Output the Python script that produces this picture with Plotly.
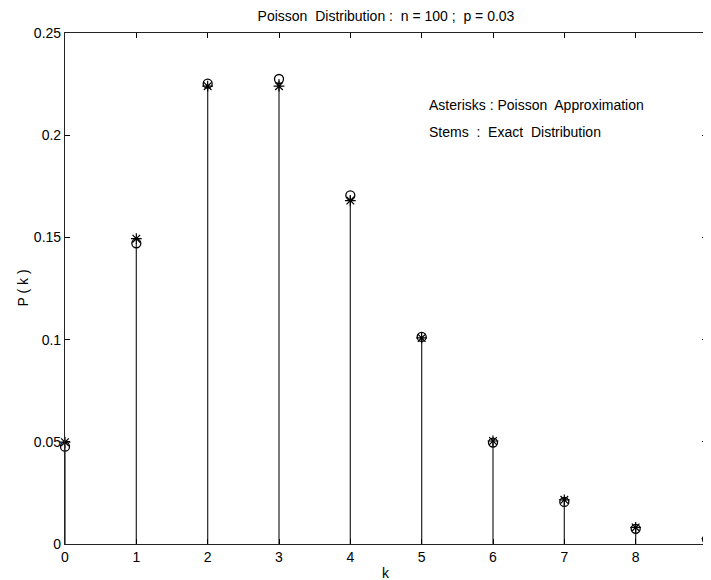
import plotly.graph_objects as go

FONT = "Liberation Sans, Arial, Helvetica, sans-serif"
NB = "\u00a0"

# k values and probabilities
k = [0, 1, 2, 3, 4, 5, 6, 7, 8, 9]
exact = [0.0476, 0.1471, 0.2252, 0.2275, 0.1706, 0.1013, 0.0496, 0.0206, 0.0074, 0.0023]
poisson = [0.0498, 0.1494, 0.2240, 0.2240, 0.1680, 0.1008, 0.0504, 0.0216, 0.0081, 0.0027]

x_ticks = [0, 1, 2, 3, 4, 5, 6, 7, 8, 9]
y_ticks = [0, 0.05, 0.1, 0.15, 0.2, 0.25]
y_tick_text = ["0", "0.05", "0.1", "0.15", "0.2", "0.25"]

fig = go.Figure()

# stems drawn as one-sided error bars going down to zero
fig.add_trace(go.Scatter(
    x=k, y=exact, mode="markers",
    marker=dict(symbol="circle-open", size=9, color="black", line=dict(width=1.3)),
    error_y=dict(type="data", symmetric=False, array=[0] * len(k), arrayminus=exact,
                 width=0, thickness=1.3, color="#333333"),
    cliponaxis=False, showlegend=False,
))

fig.add_trace(go.Scatter(
    x=k, y=poisson, mode="markers",
    marker=dict(symbol="asterisk-open", size=9, color="black", line=dict(width=1.2, color="black")),
    cliponaxis=False, showlegend=False,
))

axis_common = dict(
    showline=True, linecolor="#222222", linewidth=1.2, mirror="ticks",
    ticks="inside", ticklen=5, tickcolor="black", tickwidth=1,
    showgrid=False, zeroline=False,
    tickfont=dict(family=FONT, size=14, color="black"),
)

label_font = dict(family=FONT, size=14, color="black")

# the page body adds an 8px offset, so the figure is sized to fit inside the window
fig.update_layout(
    width=703, height=572,
    margin=dict(l=57, r=0, t=25, b=36),
    plot_bgcolor="white", paper_bgcolor="white",
    font=label_font,
    title=dict(
        text=f"Poisson{NB} Distribution :{NB} n = 100 ;{NB} p = 0.03",
        x=0.5, xref="paper", y=1 - 8 / 572, yref="container", yanchor="middle",
        font=label_font,
    ),
    xaxis=dict(axis_common, range=[0, 9], tickvals=x_ticks, ticklabeloverflow="allow"),
    yaxis=dict(axis_common, range=[0, 0.25], tickvals=y_ticks, ticktext=y_tick_text),
    annotations=[
        dict(x=0.5, y=0, xref="paper", yref="paper", yanchor="middle", yshift=-29,
             text="k", showarrow=False, font=label_font),
        dict(x=0, y=0.5, xref="paper", yref="paper", xanchor="center", xshift=-43,
             text="P ( k )", textangle=-90, showarrow=False, font=label_font),
        dict(x=5.07, y=0.2148, xref="x", yref="y", xanchor="left", yanchor="middle",
             text=f"Asterisks : Poisson{NB} Approximation", showarrow=False, font=label_font),
        dict(x=5.08, y=0.2016, xref="x", yref="y", xanchor="left", yanchor="middle",
             text=f"Stems{NB} :{NB} Exact{NB} Distribution", showarrow=False, font=label_font),
    ],
)

fig.write_html("out.html")
